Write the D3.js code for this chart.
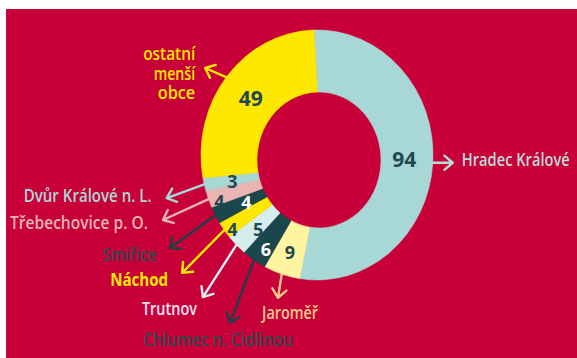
<!DOCTYPE html>
<html>
<head>
<meta charset="utf-8">
<script src="https://cdn.jsdelivr.net/npm/d3@7"></script>
<style>
  html, body { margin: 0; padding: 0; background: #ffffff; }
  svg { display: block; }
  .lbl { font-family: "Open Sans", "Noto Sans", sans-serif; }
  .num { font-family: "Open Sans", "Liberation Sans", sans-serif; font-weight: 700; }
</style>
</head>
<body>
<svg id="chart" width="577" height="358"></svg>
<script>
// ---------------- data ----------------
const categories = ["Hradec Králové", "Jaroměř", "Chlumec n. Cidlinou", "Trutnov", "Náchod",
                    "Smiřice", "Třebechovice p. O.", "Dvůr Králové n. L.", "ostatní menší obce"];
const values = [94, 9, 6, 5, 4, 4, 4, 3, 49];
const labelLines = [["Hradec Králové"], ["Jaroměř"], ["Chlumec n. Cidlinou"], ["Trutnov"], ["Náchod"],
                    ["Smiřice"], ["Třebechovice p. O."], ["Dvůr Králové n. L."], ["ostatní", "menší", "obce"]];

// ---------------- styles ----------------
const sliceColors = ["#a8d8d5", "#fff4a0", "#1a474c", "#d6eded", "#ffe800", "#1a474c", "#e9b4b1", "#a8d8d5", "#ffe800"];
const numColors   = ["#1f4952", "#1f4952", "#ffffff", "#1f4952", "#1f4952", "#ffffff", "#1f4952", "#1f4952", "#1f4952"];
const labelColors = ["#b9dcd9", "#ffc98c", "#2c4a4f", "#f1e2f1", "#ffe800", "#2c4a4f", "#e9b4b1", "#a8d8d5", "#ffe800"];
const arrowColors = ["#b9dcd9", "#ffc98c", "#1f3f44", "#d6eded", "#ffe800", "#1f3f44", "#e9b4b1", "#a8d8d5", "#ffe800"];
const numSizes    = [21, 18, 18, 18, 18, 18, 18, 18, 21];
const labelWeights = [600, 600, 600, 600, 700, 600, 600, 600, 600];
const labelWidths = [[108], [56], [150], [55], [58], [54], [138], [128], [52, 41.5, 37.5]];

// ---------------- layout ----------------
const W = 577, H = 358;
const rot = -1.5 * Math.PI / 180;
const outer = { cx: 317, cy: 155, rx: 116, ry: 125 };
const inner = { cx: 319, cy: 160, rx: 62, ry: 68 };
const numRadius   = [0.45, 0.55, 0.72, 0.55, 0.93, 0.43, 0.87, 0.50, 0.50];   // 0 = inner, 1 = outer edge
const numDx       = [0, 0, 3, 4, 5, 3, 4, 1, 2];
const numDy       = [-5, 0, 1, 0, 1, 0, 4, 1, 1];
const arrowStart  = [1.0, 1.0, 1.0, 1.0, 1.0, 1.0, 1.0, 1.0, 0.95];
const arrowAngle  = [90, 188.8, 200.9, 212.7, 224.5, 234.1, 245.4, 250.1, 293.7]; // compass degrees
const arrowLen    = [20, 24, 67, 62, 60, 56, 50, 40, 26];
const labelDx     = [9, 12, -12, -6, -14, -13, -15, -15, -10];
const labelDy     = [-3, 15, 17, 11, 7, 7, 2, -3, 5];
const labelAnchor = ["start", "middle", "middle", "end", "end", "end", "end", "end", "end"];

const svg = d3.select("#chart");
svg.append("rect").attr("x", 6).attr("y", 9).attr("width", W - 6).attr("height", H - 9).attr("fill", "#c8003a");

const pie = d3.pie().sort(null).value(d => d).startAngle(rot).endAngle(2 * Math.PI + rot);
const arcs = pie(values);

function ept(e, a) { return [e.cx + e.rx * Math.sin(a), e.cy - e.ry * Math.cos(a)]; }
function mix(a, t) {
  const p = ept(inner, a), q = ept(outer, a);
  return [p[0] + (q[0] - p[0]) * t, p[1] + (q[1] - p[1]) * t];
}
function slicePath(d) {
  const large = (d.endAngle - d.startAngle) > Math.PI ? 1 : 0;
  const o0 = ept(outer, d.startAngle), o1 = ept(outer, d.endAngle);
  const i0 = ept(inner, d.startAngle), i1 = ept(inner, d.endAngle);
  return `M${o0[0]},${o0[1]}A${outer.rx},${outer.ry} 0 ${large} 1 ${o1[0]},${o1[1]}` +
         `L${i1[0]},${i1[1]}A${inner.rx},${inner.ry} 0 ${large} 0 ${i0[0]},${i0[1]}Z`;
}

svg.append("g").selectAll("path").data(arcs).join("path")
  .attr("d", slicePath)
  .attr("fill", (d, i) => sliceColors[i])
  .attr("stroke", (d, i) => sliceColors[i])
  .attr("stroke-width", 0.6);

// value labels
svg.append("g").selectAll("text").data(arcs).join("text")
  .attr("class", "num")
  .attr("x", (d, i) => mix((d.startAngle + d.endAngle) / 2, numRadius[i])[0] + numDx[i])
  .attr("y", (d, i) => mix((d.startAngle + d.endAngle) / 2, numRadius[i])[1] + numDy[i])
  .attr("text-anchor", "middle")
  .attr("dominant-baseline", "central")
  .attr("font-size", (d, i) => numSizes[i])
  .attr("fill", (d, i) => numColors[i])
  .text(d => d.data);

// arrows + category labels
const ag = svg.append("g");
arcs.forEach((d, i) => {
  const mid = (d.startAngle + d.endAngle) / 2;
  const s = mix(mid, arrowStart[i]);
  const th = arrowAngle[i] * Math.PI / 180;
  const e = [s[0] + arrowLen[i] * Math.sin(th), s[1] - arrowLen[i] * Math.cos(th)];
  const arm = 11, spread = 40 * Math.PI / 180;
  const back = th + Math.PI;
  const h1 = [e[0] + arm * Math.sin(back - spread), e[1] - arm * Math.cos(back - spread)];
  const h2 = [e[0] + arm * Math.sin(back + spread), e[1] - arm * Math.cos(back + spread)];
  ag.append("path")
    .attr("d", `M${s[0]},${s[1]}L${e[0]},${e[1]}M${h1[0]},${h1[1]}L${e[0]},${e[1]}L${h2[0]},${h2[1]}`)
    .attr("fill", "none")
    .attr("stroke", arrowColors[i])
    .attr("stroke-width", 2.4)
    .attr("stroke-linecap", "round")
    .attr("stroke-linejoin", "round");

  const lines = labelLines[i];
  const lh = 19.5;
  const x = e[0] + labelDx[i];
  const yMid = e[1] + labelDy[i];
  lines.forEach((ln, k) => {
    const y = yMid + (k - (lines.length - 1) / 2) * lh;
    const t = ag.append("text")
      .attr("class", "lbl")
      .attr("x", 0).attr("y", 0)
      .attr("text-anchor", labelAnchor[i])
      .attr("dominant-baseline", "central")
      .attr("font-size", 17.5)
      .attr("font-weight", labelWeights[i])
      .attr("fill", labelColors[i])
      .text(ln);
    const natural = t.node().getComputedTextLength() || labelWidths[i][k];
    const k2 = labelWidths[i][k] / natural;
    t.attr("transform", `translate(${x},${y}) scale(${k2},1)`);
  });
});
</script>
</body>
</html>
